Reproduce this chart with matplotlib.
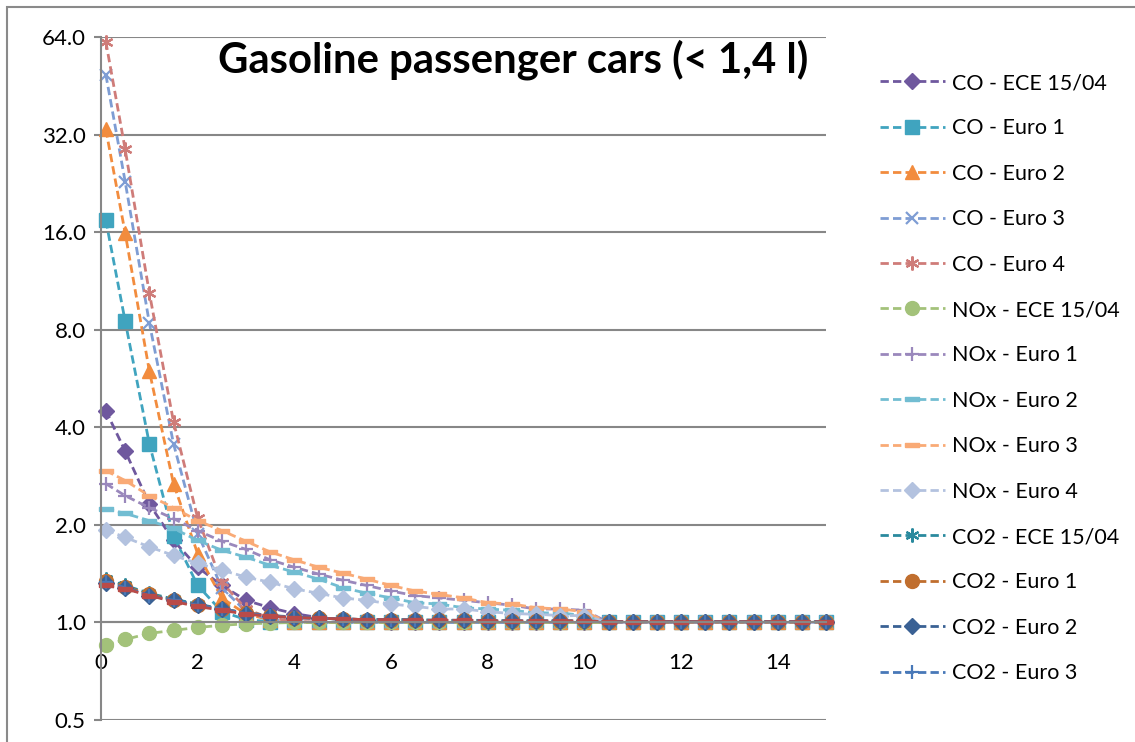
import matplotlib
matplotlib.use("Agg")
import matplotlib.pyplot as plt
from matplotlib.ticker import FixedLocator, FuncFormatter, NullLocator
from matplotlib.patches import Rectangle

plt.rcParams['font.family'] = ['Lato', 'DejaVu Sans']

x = [0.1, 0.5, 1.0, 1.5, 2.0, 2.5, 3.0, 3.5, 4.0, 4.5, 5.0, 5.5, 6.0, 6.5, 7.0, 7.5,
     8.0, 8.5, 9.0, 9.5, 10.0, 10.5, 11.0, 11.5, 12.0, 12.5, 13.0, 13.5, 14.0, 14.5, 15.0]

ones10 = [1.0] * 10

co_ece = [4.5, 3.38, 2.32, 1.79, 1.48, 1.30, 1.17, 1.11, 1.065, 1.035, 1.02, 1.01, 1.005,
          1.0, 1.0, 1.0, 1.0, 1.0, 1.0, 1.0, 1.0] + ones10
co_e1 = [17.4, 8.5, 3.56, 1.85, 1.30, 1.08, 1.02, 1.005, 1.0, 1.0, 1.0, 1.0, 1.0,
         1.0, 1.0, 1.0, 1.0, 1.0, 1.0, 1.0, 1.0] + ones10
co_e2 = [33.2, 15.9, 5.97, 2.68, 1.63, 1.19, 1.06, 1.02, 1.0, 1.0, 1.0, 1.0, 1.0,
         1.0, 1.0, 1.0, 1.0, 1.0, 1.0, 1.0, 1.0] + ones10
co_e3 = [49.0, 22.9, 8.4, 3.56, 1.88, 1.28, 1.08, 1.02, 1.005, 1.0, 1.0, 1.0, 1.0,
         1.0, 1.0, 1.0, 1.0, 1.0, 1.0, 1.0, 1.0] + ones10
co_e4 = [61.9, 28.8, 10.4, 4.16, 2.10, 1.33, 1.10, 1.03, 1.01, 1.0, 1.0, 1.0, 1.0,
         1.0, 1.0, 1.0, 1.0, 1.0, 1.0, 1.0, 1.0] + ones10
nox_ece = [0.85, 0.886, 0.925, 0.945, 0.965, 0.98, 0.99, 0.995, 1.0, 1.0, 1.0, 1.0, 1.0,
           1.0, 1.0, 1.0, 1.0, 1.0, 1.0, 1.0, 1.0] + ones10
nox_e1 = [2.68, 2.46, 2.26, 2.09, 1.92, 1.78, 1.68, 1.56, 1.48, 1.41, 1.35, 1.30, 1.25,
          1.21, 1.19, 1.17, 1.15, 1.13, 1.10, 1.10, 1.09] + ones10
nox_e2 = [2.24, 2.17, 2.06, 1.95, 1.79, 1.67, 1.59, 1.50, 1.43, 1.36, 1.28, 1.23, 1.19,
          1.15, 1.14, 1.11, 1.10, 1.09, 1.07, 1.07, 1.05] + ones10
nox_e3 = [2.94, 2.74, 2.46, 2.26, 2.06, 1.92, 1.78, 1.65, 1.56, 1.48, 1.42, 1.36, 1.30,
          1.25, 1.22, 1.19, 1.15, 1.14, 1.11, 1.10, 1.08] + ones10
nox_e4 = [1.93, 1.83, 1.71, 1.61, 1.52, 1.45, 1.38, 1.33, 1.27, 1.23, 1.19, 1.17, 1.14,
          1.12, 1.10, 1.10, 1.08, 1.065, 1.06, 1.05, 1.05] + ones10
co2_ece = [1.36, 1.30, 1.23, 1.18, 1.14, 1.10, 1.07, 1.05, 1.04, 1.03, 1.025, 1.02, 1.02,
           1.02, 1.015, 1.015, 1.015, 1.01, 1.01, 1.01, 1.01, 1.005, 1.005, 1.005, 1.005,
           1.005, 1.005, 1.005, 1.005, 1.005, 1.005]
co2_e1 = [1.34, 1.29, 1.22, 1.17, 1.13, 1.10, 1.07, 1.05, 1.035, 1.03, 1.025, 1.02, 1.02,
          1.015, 1.015, 1.015, 1.01, 1.01, 1.01, 1.01, 1.01, 1.005, 1.005, 1.005, 1.005,
          1.005, 1.005, 1.005, 1.005, 1.005, 1.005]
co2_e2 = [1.32, 1.28, 1.21, 1.17, 1.13, 1.10, 1.065, 1.05, 1.035, 1.03, 1.025, 1.02, 1.02,
          1.015, 1.015, 1.015, 1.01, 1.01, 1.01, 1.01, 1.01, 1.005, 1.005, 1.005, 1.005,
          1.005, 1.005, 1.005, 1.005, 1.005, 1.005]
co2_e3 = [1.33, 1.28, 1.21, 1.17, 1.13, 1.10, 1.065, 1.05, 1.035, 1.03, 1.025, 1.02, 1.02,
          1.015, 1.015, 1.015, 1.01, 1.01, 1.01, 1.01, 1.01, 1.005, 1.005, 1.005, 1.005,
          1.005, 1.005, 1.005, 1.005, 1.005, 1.005]
co2_e4 = [1.30, 1.27, 1.21, 1.16, 1.12, 1.09, 1.06, 1.045, 1.035, 1.03, 1.025, 1.02, 1.02,
          1.015, 1.015, 1.015, 1.01, 1.01, 1.01, 1.01, 1.01, 1.005, 1.005, 1.005, 1.005,
          1.005, 1.005, 1.005, 1.005, 1.005, 1.005]

labels = ["CO - ECE 15/04", "CO - Euro 1", "CO - Euro 2", "CO - Euro 3", "CO - Euro 4",
          "NOx - ECE 15/04", "NOx - Euro 1", "NOx - Euro 2", "NOx - Euro 3", "NOx - Euro 4",
          "CO2 - ECE 15/04", "CO2 - Euro 1", "CO2 - Euro 2", "CO2 - Euro 3", "_CO2 - Euro 4"]
series = [co_ece, co_e1, co_e2, co_e3, co_e4, nox_ece, nox_e1, nox_e2, nox_e3, nox_e4,
          co2_ece, co2_e1, co2_e2, co2_e3, co2_e4]

yticks = [0.5, 1, 2, 4, 8, 16, 32, 64]
xticks = [0, 2, 4, 6, 8, 10, 12, 14]
title = "Gasoline passenger cars (< 1,4 l)"

dash_marker = [(-1, -0.32), (1, -0.32), (1, 0.32), (-1, 0.32), (-1, -0.32)]
styles = [
    dict(color="#6F589E", marker="D", ms=8.5),
    dict(color="#40A4BF", marker="s", ms=10),
    dict(color="#F28C3E", marker="^", ms=10.5),
    dict(color="#7E9DD4", marker="x", ms=8.5, mew=1.6),
    dict(color="#CF7C79", marker=(6, 2, 0), ms=10, mew=1.6),
    dict(color="#A3C27A", marker="o", ms=10),
    dict(color="#9A88BC", marker="+", ms=10, mew=1.6),
    dict(color="#72BDD2", marker=dash_marker, ms=10.5),
    dict(color="#F9AA76", marker=dash_marker, ms=10.5),
    dict(color="#B3C2DF", marker="D", ms=8.5),
    dict(color="#2A8A9E", marker=(6, 2, 0), ms=10, mew=1.6),
    dict(color="#C06E2E", marker="o", ms=10),
    dict(color="#3A6194", marker="D", ms=8.5),
    dict(color="#4878B8", marker="+", ms=10, mew=1.6),
    dict(color="#B94B48", marker=dash_marker, ms=10.5),
]

fig = plt.figure(figsize=(11.35, 7.42), dpi=100)
W, H = 1135, 742
ax = fig.add_axes([101 / W, 1 - 720 / H, 725 / W, 683 / H])

grid_c = "#878787"
for vals, lab, st in zip(series, labels, styles):
    ax.plot(x, vals, label=lab, lw=2.0, linestyle=(0, (3, 1.5)),
            color=st["color"], marker=st["marker"], markersize=st["ms"],
            markeredgewidth=st.get("mew", 1.0), markerfacecolor=st["color"],
            markeredgecolor=st["color"], clip_on=False)

ax.set_yscale("log", base=2)
ax.set_ylim(0.5, 64)
ax.set_xlim(0, 15)
ax.yaxis.set_major_locator(FixedLocator(yticks))
ax.yaxis.set_minor_locator(NullLocator())
ax.yaxis.set_major_formatter(FuncFormatter(lambda v, p: f"{v:.1f}"))
ax.xaxis.set_major_locator(FixedLocator(xticks))
ax.xaxis.set_minor_locator(NullLocator())

ax.grid(axis="y", color=grid_c, lw=1.5)
ax.set_axisbelow(True)
for s in ["top", "right"]:
    ax.spines[s].set_visible(False)
ax.spines["left"].set_color(grid_c)
ax.spines["left"].set_linewidth(1.5)
ax.spines["bottom"].set_position(("data", 1.0))
ax.spines["bottom"].set_color(grid_c)
ax.spines["bottom"].set_linewidth(1.5)

ax.tick_params(axis="y", length=5, width=1.5, color=grid_c, labelsize=16, pad=6,
               labelcolor="#000000")
ax.tick_params(axis="x", length=0, labelsize=16, pad=22, labelcolor="#000000")

fig.text(513 / W, 1 - 73 / H, title, ha="center", va="baseline",
         fontsize=30.2, fontweight="bold", color="#000000")

fig.legend(loc="upper left", bbox_to_anchor=(880 / W, 1 - 73 / H), frameon=False,
           fontsize=15.5, handlelength=3.0, handletextpad=0.33, labelspacing=1.18,
           borderpad=0, borderaxespad=0, markerscale=1.0)

fig.patches.append(Rectangle((7 / W, -0.1), 1.2, 1.1 - 7 / H, transform=fig.transFigure,
                             fill=False, edgecolor="#8A8A8A", lw=1.5))

fig.savefig("out.png", dpi=100)
